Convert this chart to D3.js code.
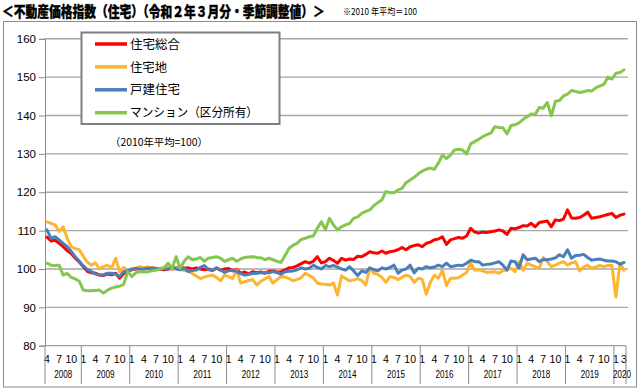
<!DOCTYPE html>
<html>
<head>
<meta charset="utf-8">
<script src="https://cdn.jsdelivr.net/npm/d3@7"></script>
<style>
  body { margin: 0; background: #fff; }
  svg { display: block; font-family: "Noto Sans CJK JP", sans-serif; }
</style>
</head>
<body>
<div id="chart"></div>
<script>
// monthly categories: 2008/4 .. 2020/3
const startYear = 2008, startMonth = 4, monthCount = 144;
const yearLabels = ["2008","2009","2010","2011","2012","2013","2014","2015","2016","2017","2018","2019","2020"];
const monthTickLabels = [1, 4, 7, 10];
const yTicks = [80, 90, 100, 110, 120, 130, 140, 150, 160];
const seriesNames = ["住宅総合", "住宅地", "戸建住宅", "マンション（区分所有）"];

// 住宅総合
const sogo = [
  108.3,107.3,107.5,106.7,105.8,104.8,104.0,102.8,101.8,
  100.6,99.4,99.0,98.9,98.4,98.3,98.7,98.5,98.9,97.6,98.8,99.4,
  99.8,100.0,100.1,100.0,100.2,100.3,100.1,100.0,99.8,100.0,100.4,100.2,
  100.5,100.2,100.3,100.0,100.3,100.0,99.8,100.0,99.6,100.2,99.7,100.0,
  100.1,99.5,99.9,98.9,99.2,98.7,99.3,99.0,99.2,98.9,99.4,99.5,
  99.2,99.3,99.8,100.3,100.4,100.8,101.4,101.9,101.5,102.0,103.2,101.6,
  101.9,102.8,102.2,101.5,102.8,102.3,102.6,102.5,103.3,103.2,103.8,104.5,
  104.2,104.1,104.7,104.1,104.5,104.7,105.0,105.6,105.0,105.8,106.1,106.3,
  105.8,106.7,107.0,107.6,107.8,108.4,106.4,107.6,107.9,108.2,108.0,108.6,
  110.6,109.6,109.4,109.6,109.5,109.7,109.9,110.2,109.9,109.0,110.6,110.5,
  110.8,111.3,111.2,111.9,111.0,112.1,112.3,112.5,111.0,112.8,112.6,113.0,
  115.4,113.3,113.2,113.4,114.0,114.8,113.2,113.4,113.6,113.9,114.2,114.5,
  113.4,114.0,114.3
];
// 住宅地
const takuchi = [
  112.3,111.9,111.5,109.8,111.0,108.0,105.8,105.3,105.0,
  103.3,101.8,101.0,101.6,100.0,100.6,101.0,100.3,102.8,99.3,100.4,99.7,
  99.9,100.2,100.6,100.3,100.6,100.2,99.7,100.0,100.3,100.5,99.8,100.2,
  100.0,99.6,99.5,98.8,98.2,97.5,97.9,98.2,98.4,97.8,96.9,98.4,
  98.0,97.5,99.7,96.3,96.7,97.0,97.2,95.8,96.8,97.4,98.0,96.3,
  97.2,98.0,97.9,97.5,96.9,97.3,97.7,98.9,98.3,97.7,96.3,96.1,
  96.0,95.8,96.3,93.2,98.2,97.5,96.9,97.1,97.5,97.0,95.8,100.2,
  98.9,98.6,97.8,96.5,98.0,97.8,97.2,97.8,98.4,98.0,96.5,97.6,
  97.3,93.4,96.5,98.4,97.6,99.7,95.7,97.6,97.6,97.7,98.4,99.1,
  101.5,99.7,99.8,99.5,99.1,99.2,99.3,98.9,99.6,99.7,100.2,99.3,
  101.9,99.7,101.5,101.0,100.6,100.2,103.0,101.9,100.6,101.0,101.5,101.9,
  101.0,101.6,101.9,99.5,100.5,101.0,100.2,100.5,100.9,100.6,100.9,101.0,
  92.7,101.5,99.7
];
// 戸建住宅
const kodate = [
  110.2,108.0,108.4,107.6,106.7,105.8,104.6,103.2,102.0,
  100.8,99.9,99.3,98.7,98.4,98.5,98.9,98.9,98.7,98.0,99.3,99.5,
  100.0,100.1,100.0,100.0,100.2,100.1,99.9,100.0,100.1,99.9,100.6,100.0,
  99.8,100.2,99.3,99.6,99.7,100.4,100.9,99.8,99.7,100.3,99.8,99.1,
  99.5,99.7,99.3,98.8,98.4,98.6,98.8,98.9,99.0,99.1,99.0,99.3,
  99.1,98.6,99.3,99.4,99.5,99.8,100.3,100.0,100.2,101.0,100.4,100.0,
  100.9,100.6,100.9,100.5,100.0,99.7,100.6,99.5,98.3,99.5,99.1,100.3,
  99.8,99.5,100.3,100.0,100.4,101.0,98.9,99.7,100.0,101.0,99.0,100.2,
  100.0,100.6,100.3,100.5,101.0,100.6,101.5,100.6,100.8,101.0,100.9,101.5,
  102.3,101.9,101.9,101.0,101.2,101.3,101.6,101.9,101.0,99.7,102.1,101.9,
  100.3,103.7,102.4,102.6,102.8,101.9,102.5,102.4,102.6,102.9,103.7,103.2,
  105.0,102.8,103.5,103.6,103.8,103.0,102.3,102.5,102.6,102.3,102.1,102.1,
  101.9,101.2,101.7
];
// マンション（区分所有）
const mansion = [
  101.5,101.0,100.9,101.0,98.4,98.9,97.8,97.4,96.8,
  94.5,94.3,94.3,94.4,94.5,93.7,94.5,95.0,95.3,95.5,96.0,99.3,
  98.0,99.0,99.3,99.2,99.3,99.5,99.7,100.1,100.3,101.5,100.2,103.2,
  100.2,102.0,103.2,102.4,102.6,103.0,102.0,102.8,103.0,103.2,102.8,102.0,
  102.4,102.8,102.0,102.6,103.0,103.1,103.2,103.0,102.9,102.4,102.8,102.4,
  102.0,101.7,103.5,105.4,106.2,106.7,107.7,108.0,108.4,108.6,110.6,112.3,
  110.2,113.2,111.5,110.2,111.0,111.5,111.9,113.2,113.6,114.5,115.0,115.4,
  116.5,117.3,118.0,120.2,119.9,119.9,120.6,121.0,122.5,123.2,123.9,124.8,
  125.5,126.0,126.3,126.0,127.6,129.7,128.8,129.7,131.0,131.2,131.0,130.0,
  132.6,133.2,133.8,134.5,135.0,135.4,137.1,136.9,136.8,135.2,137.4,137.6,
  138.1,139.0,139.7,140.4,140.3,142.1,141.9,143.4,139.9,143.7,143.9,145.1,
  145.6,146.5,146.3,146.0,146.2,146.5,146.4,147.2,147.7,148.1,150.0,149.5,
  151.0,151.2,151.9
];

const colors = ["#ff0000", "#fdb52f", "#4a7ebb", "#84c64e"];
const seriesData = [sogo, takuchi, kodate, mansion];

const width = 641, height = 389;
const plot = {left: 45, right: 626, top: 38.8, bottom: 345.7};

const months = d3.range(monthCount).map(i => {
  const m = startMonth - 1 + i;
  return {key: i, year: startYear + Math.floor(m / 12), month: m % 12 + 1};
});

const svg = d3.select("#chart").append("svg")
    .attr("width", width)
    .attr("height", height);

svg.append("rect").attr("width", width).attr("height", height).attr("fill", "#fff");

// squeeze a text horizontally to a given width (keeps its real box)
function fitText(sel, x0, y0, w) {
  const len = sel.node().getComputedTextLength();
  sel.attr("transform", `translate(${x0},${y0}) scale(${w / len},1)`);
}

// title
let titleText = svg.append("text")
    .attr("font-size", "14.5px")
    .attr("font-weight", "900")
    .attr("stroke", "#000")
    .attr("stroke-width", 0.35)
    .text("＜不動産価格指数（住宅）（令和２年３月分・季節調整値）＞");
fitText(titleText, 2, 16.5, 323);

let noteText = svg.append("text")
    .attr("font-size", "9.5px")
    .text("※2010 年平均＝100");
fitText(noteText, 343, 14.5, 74);

// outer frame
svg.append("rect")
    .attr("x", 3.5).attr("y", 21.5)
    .attr("width", 633).attr("height", 365.5)
    .attr("fill", "none")
    .attr("stroke", "#8c8c8c");

let x = d3.scaleBand()
    .domain(months.map(d => d.key))
    .range([plot.left, plot.right]);

let y = d3.scaleLinear()
    .domain([80, 160])
    .range([plot.bottom, plot.top]);

// gridlines
svg.append("g").selectAll("line")
    .data(yTicks.filter(d => d > 80))
    .enter().append("line")
      .attr("x1", plot.left).attr("x2", plot.right + 2)
      .attr("y1", d => y(d)).attr("y2", d => y(d))
      .attr("stroke", "#a6a6a6")
      .attr("stroke-width", 1.4);

// y axis
let yAxis = g => g
    .attr("transform", `translate(${plot.left},0)`)
    .call(d3.axisLeft(y).tickValues(yTicks).tickSize(6).tickPadding(3))
    .call(g => g.select(".domain").attr("stroke", "#8c8c8c"))
    .call(g => g.selectAll(".tick line").attr("stroke", "#8c8c8c"))
    .call(g => g.selectAll(".tick text")
        .attr("font-family", "'Liberation Sans', Arial, sans-serif")
        .attr("font-size", "11.5px")
        .attr("fill", "#000"));
svg.append("g").call(yAxis);

// x axis line
svg.append("line")
    .attr("x1", plot.left).attr("x2", plot.right)
    .attr("y1", plot.bottom).attr("y2", plot.bottom)
    .attr("stroke", "#8c8c8c");

// month labels
const lastKey = months[months.length - 1].key;
svg.append("g").selectAll("text")
    .data(months.filter(d => monthTickLabels.includes(d.month) || d.key === lastKey))
    .enter().append("text")
      .attr("x", d => x(d.key) + x.bandwidth() / 2)
      .attr("y", 363)
      .attr("text-anchor", "middle")
      .attr("font-family", "'Liberation Sans', Arial, sans-serif")
      .attr("font-size", "10.5px")
      .text(d => d.month);

// year separators
const bounds = months.filter(d => d.month === 1).map(d => x(d.key));
bounds.unshift(plot.left);
bounds.push(plot.right);
svg.append("g").selectAll("line")
    .data(bounds)
    .enter().append("line")
      .attr("x1", d => d).attr("x2", d => d)
      .attr("y1", plot.bottom).attr("y2", 384)
      .attr("stroke", "#8c8c8c");

// year labels
svg.append("g").selectAll("text")
    .data(yearLabels)
    .enter().append("text")
      .attr("x", yr => {
        const ms = months.filter(d => d.year === +yr);
        const a = x(ms[0].key), b = x(ms[ms.length - 1].key) + x.bandwidth();
        return yr === "2020" ? b - 4 : (a + b) / 2;
      })
      .attr("y", 378)
      .attr("text-anchor", "middle")
      .attr("font-family", "'Liberation Sans', Arial, sans-serif")
      .attr("font-size", "11px")
      .attr("textLength", 18)
      .attr("lengthAdjust", "spacingAndGlyphs")
      .text(d => d);

// lines
let line = d3.line()
    .x((d, i) => x(months[i].key) + x.bandwidth() / 2)
    .y(d => y(d));

svg.append("g").selectAll("path")
    .data(seriesData)
    .enter().append("path")
      .attr("d", d => line(d))
      .attr("fill", "none")
      .attr("stroke", (d, i) => colors[i])
      .attr("stroke-width", 3)
      .attr("stroke-linejoin", "round")
      .attr("stroke-linecap", "round");

// legend
svg.append("rect")
    .attr("x", 81.5).attr("y", 32.5)
    .attr("width", 198).attr("height", 91.5)
    .attr("fill", "#fff")
    .attr("stroke", "#7f7f7f")
    .attr("stroke-width", 2);

const legendW = [50, 37, 50, 128];
const legend = svg.append("g").selectAll("g")
    .data(seriesNames)
    .enter().append("g")
      .attr("transform", (d, i) => `translate(0,${44 + i * 22.9})`);

legend.append("line")
    .attr("x1", 95).attr("x2", 127)
    .attr("stroke", (d, i) => colors[i])
    .attr("stroke-width", 3.5);

legend.append("text")
    .attr("x", 130).attr("y", 4.6)
    .attr("font-size", "12.5px")
    .attr("textLength", (d, i) => legendW[i])
    .attr("lengthAdjust", "spacingAndGlyphs")
    .text(d => d);

svg.append("text")
    .attr("x", 110).attr("y", 145.5)
    .attr("font-size", "10.5px")
    .attr("textLength", 98)
    .attr("lengthAdjust", "spacingAndGlyphs")
    .text("（2010年平均=100）");
</script>
</body>
</html>
